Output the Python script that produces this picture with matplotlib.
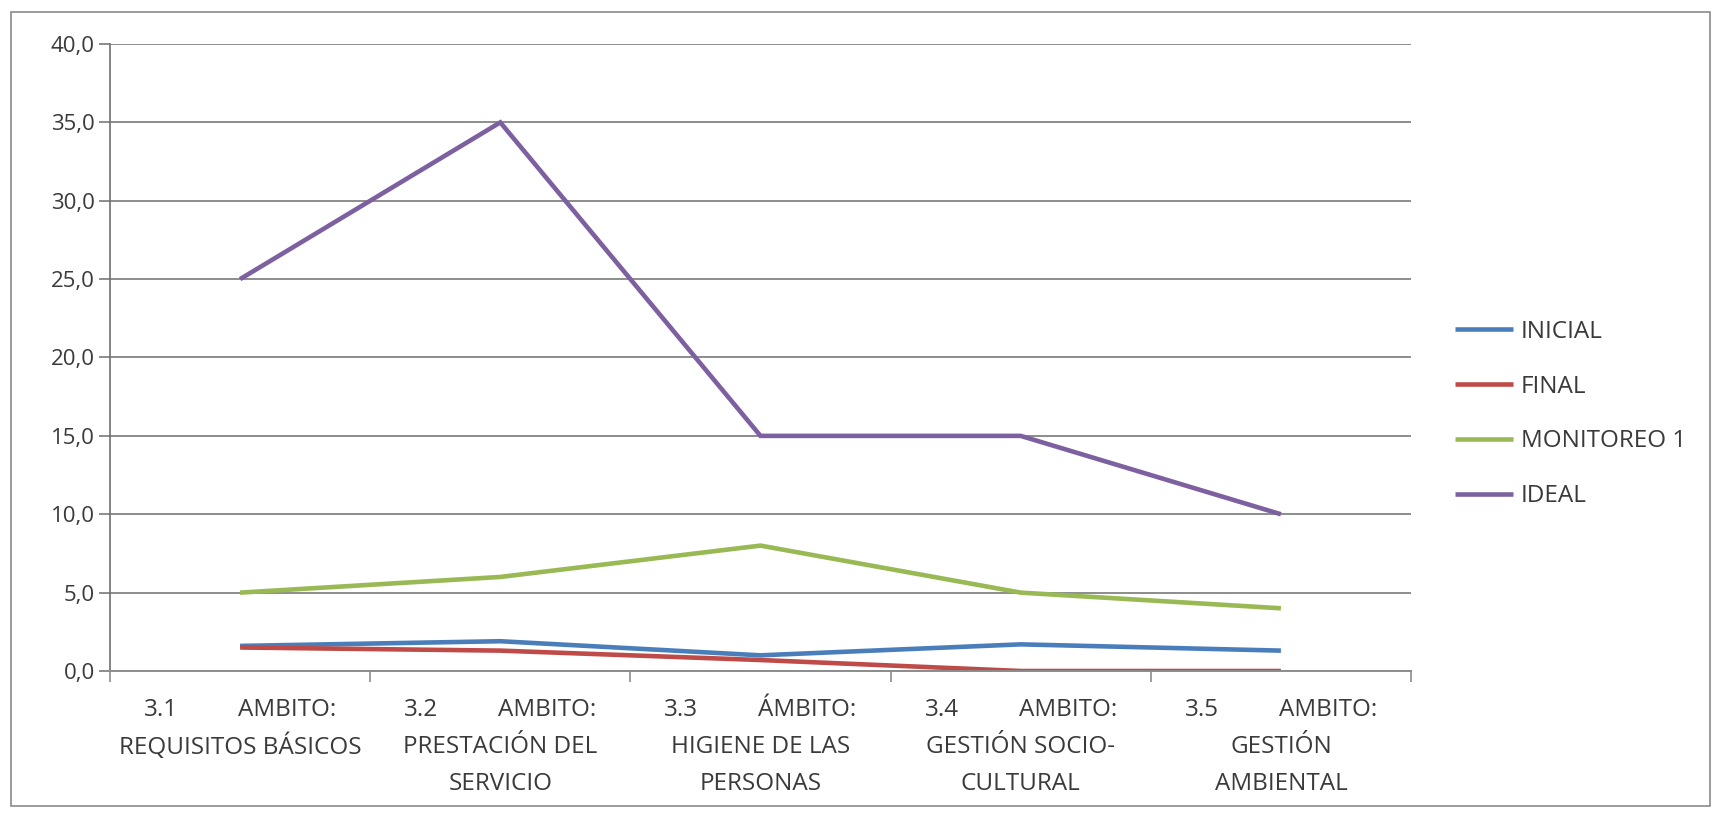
import matplotlib
matplotlib.use("Agg")
import matplotlib.pyplot as plt
import matplotlib.transforms as mtransforms
from matplotlib.patches import Rectangle

plt.rcParams['font.family'] = ['Open Sans', 'DejaVu Sans']

# ---- data ----
cat_first_num = ["3.1", "3.2", "3.3", "3.4", "3.5"]
cat_first_word = ["AMBITO:", "AMBITO:", "ÁMBITO:", "AMBITO:", "AMBITO:"]
cat_rest = [
    ["REQUISITOS BÁSICOS"],
    ["PRESTACIÓN DEL", "SERVICIO"],
    ["HIGIENE DE LAS", "PERSONAS"],
    ["GESTIÓN SOCIO-", "CULTURAL"],
    ["GESTIÓN", "AMBIENTAL"],
]
series_names = ["INICIAL", "FINAL", "MONITOREO 1", "IDEAL"]
inicial = [1.6, 1.9, 1.0, 1.7, 1.3]
final = [1.5, 1.3, 0.7, 0.0, 0.0]
monitoreo1 = [5.0, 6.0, 8.0, 5.0, 4.0]
ideal = [25.0, 35.0, 15.0, 15.0, 10.0]
y_ticks = [0, 5, 10, 15, 20, 25, 30, 35, 40]

colors = ["#4A7EBB", "#BE4B48", "#98B954", "#7D60A0"]
grid_col = "#8C8C8C"
text_col = "#3A3A3A"
FS = 17.5
FS_Y = 16

W, H = 1716, 813
fig = plt.figure(figsize=(W / 100, H / 100), dpi=100)
fig.patch.set_facecolor("white")
fig.add_artist(Rectangle((11 / W, 1 - 806 / H), 1699 / W, 794 / H,
                         transform=fig.transFigure, fill=False,
                         edgecolor="#8A8A8A", linewidth=1.2))

ax = fig.add_axes([110 / W, 1 - 671 / H, 1301 / W, 627 / H])
x = list(range(len(cat_first_num)))
for vals, name, c in zip([inicial, final, monitoreo1, ideal], series_names, colors):
    ax.plot(x, vals, color=c, linewidth=3.3, label=name, solid_capstyle="butt",
            solid_joinstyle="miter")

ax.set_xlim(-0.5, len(x) - 0.5)
ax.set_ylim(0, 40)
ax.set_yticks(y_ticks)
ax.set_yticklabels([("%.1f" % v).replace(".", ",") for v in y_ticks],
                   fontsize=FS_Y, color=text_col)
ax.yaxis.grid(True, color=grid_col, linewidth=1.4)
ax.set_axisbelow(True)
ax.set_xticks([i - 0.5 for i in range(len(x) + 1)])
ax.set_xticklabels([])
ax.tick_params(axis="x", direction="out", length=8, width=1.2, color=grid_col)
ax.tick_params(axis="y", direction="out", length=8, width=1.4, color=grid_col, pad=3)
for s in ["top", "right"]:
    ax.spines[s].set_visible(False)
ax.spines["left"].set_color("#707070")
ax.spines["left"].set_linewidth(1.2)
ax.spines["bottom"].set_color(grid_col)
ax.spines["bottom"].set_linewidth(1.4)

# category labels
trans = mtransforms.blended_transform_factory(ax.transData, ax.transAxes)
off = 96 / 260.0
for i in x:
    base = mtransforms.offset_copy(trans, fig=fig, x=0, y=-39 * 0.72, units="points")
    ax.text(i - off, 0, cat_first_num[i], transform=base, ha="left", va="center",
            fontsize=FS, color=text_col)
    ax.text(i + off, 0, cat_first_word[i], transform=base, ha="right", va="center",
            fontsize=FS, color=text_col)
    for k, line in enumerate(cat_rest[i]):
        t = mtransforms.offset_copy(trans, fig=fig, x=0, y=-(39 + 37 * (k + 1)) * 0.72,
                                    units="points")
        ax.text(i, 0, line, transform=t, ha="center", va="center",
                fontsize=FS, color=text_col)

leg = fig.legend(loc="center left", bbox_to_anchor=(1455 / W, 1 - 414 / H),
                 frameon=False, fontsize=FS, handlelength=2.4, handletextpad=0.32,
                 labelspacing=1.27, borderaxespad=0, borderpad=0)
for t in leg.get_texts():
    t.set_color(text_col)

fig.savefig("out.png", dpi=100, facecolor="white")
